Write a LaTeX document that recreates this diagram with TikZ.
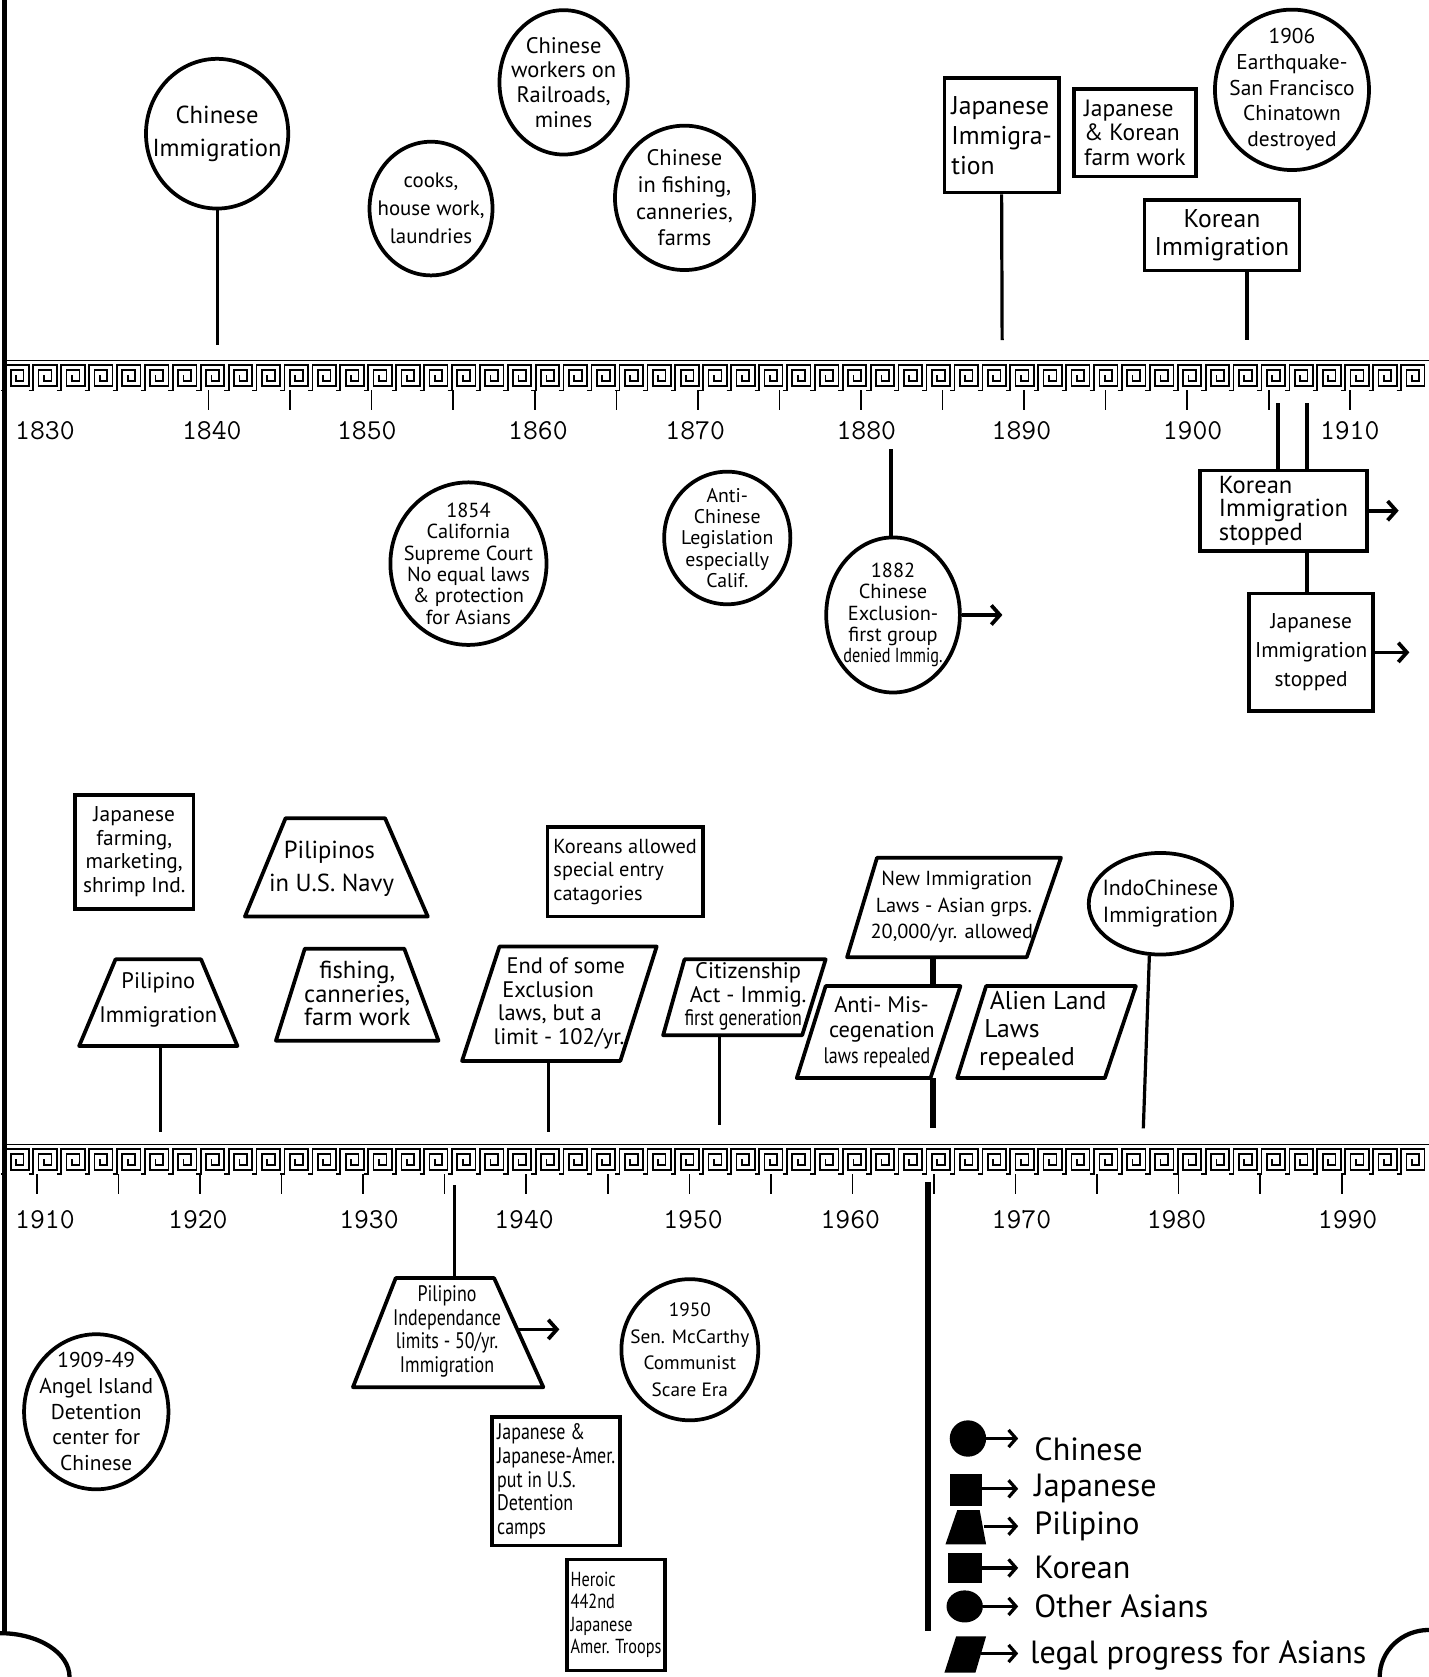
\documentclass[tikz,border=0pt]{standalone}
\usepackage{fontspec}
\newfontfamily\hand{PT Sans}
\newfontfamily\handn{PT Sans}[FakeStretch=0.8]
\usetikzlibrary{shapes.geometric,arrows.meta}
\newcommand\hsz[2]{\fontsize{#1}{#2}\selectfont}
\newcommand\keyband[1]{%
  \draw[key] (5,#1) -- (1336,#1);
  \foreach \i in {0,...,50} {
    \pgfmathsetmacro\xa{5+\i*26.1}
    \draw[key] (\xa-4.1,#1+28) -- (\xa,#1+28) -- ++(0,-24) -- ++(22,0) -- ++(0,20) -- ++(-17,0) -- ++(0,-15) -- ++(12,0) -- ++(0,10) -- ++(-7,0) -- ++(0,-5);
  }
}
% ellipse node of fixed size with its text laid on top: name, position, width, height, font, text
\newcommand\elln[6]{%
  \node[ell,minimum width=#3,minimum height=#4] (#1) at (#2) {};
  \node[lbl,font=#5] (#1-t) at (#1.center) {#6};
}
\begin{document}
\begin{tikzpicture}[x=1pt,y=-1pt,
  shp/.style={draw,line width=3.5pt,inner sep=0pt,align=center},
  ell/.style={shp,ellipse},
  box/.style={shp,rectangle},
  poly/.style={line width=3.5pt,line join=round},
  stem/.style={line width=3pt},
  heavy/.style={line width=5.5pt},
  arr/.style={line width=3.5pt,-{Straight Barb[length=8pt,width=18pt,line width=3.5pt]}},
  lbl/.style={inner sep=0pt,align=center},
  yr/.style={font=\ttfamily\hsz{27}{27},inner sep=0pt},
  key/.style={line width=1.6pt},
  tick/.style={line width=1.5pt},
  legtxt/.style={anchor=west,inner sep=0pt,font=\hand\hsz{30}{30}},
  legarr/.style={line width=3pt,-{Straight Barb[length=7pt,width=16pt,line width=3pt]}},
]
\useasboundingbox (0,0) rectangle (1336,1568);
\fill[white] (0,0) rectangle (1336,1568);

% border
\draw[line width=5pt] (4,0) -- (4,1527);
\draw[line width=4pt] (0,1527) arc[start angle=90,end angle=0,x radius=65,y radius=-41];
\draw[line width=4pt] (1290,1568) arc[start angle=180,end angle=90,x radius=46,y radius=-44];

% ===== top section =====
\elln{chimm}{203,125}{133pt}{140pt}{\hand\hsz{23}{31}}{Chinese\\Immigration}
\elln{cooks}{403,195}{115pt}{125pt}{\hand\hsz{19.5}{26}}{cooks,\\house work,\\laundries}
\elln{rail}{527,77}{120pt}{135pt}{\hand\hsz{21}{23}}{Chinese\\workers on\\Railroads,\\mines}
\elln{fish}{640,185}{130pt}{135pt}{\hand\hsz{21}{25}}{Chinese\\in fishing,\\canneries,\\farms}
\node[box,minimum width=107pt,minimum height=107pt,align=left,font=\hand\hsz{24}{28}] (japimm) at (936.5,126.5) {Japanese\\Immigra-\\tion};
\node[box,minimum width=114pt,minimum height=82pt,align=left,font=\hand\hsz{22}{23}] (jkfarm) at (1061,124) {Japanese\\\& Korean\\farm work};
\elln{quake}{1208,84}{144pt}{150pt}{\hand\hsz{20}{24}}{1906\\Earthquake-\\San Francisco\\Chinatown\\destroyed}
\node[box,minimum width=145pt,minimum height=66pt,font=\hand\hsz{24}{26}] (korimm) at (1142.5,220) {Korean\\Immigration};

\coordinate (b1840) at (203,323);
\coordinate (b1888) at (937,318);
\coordinate (b1903) at (1166,318);
\draw[stem] (chimm.south) -- (b1840);
\draw[stem] (japimm.south) -- (b1888);
\draw[stem] (korimm.south -| b1903) -- (b1903);

% band 1
\keyband{337}
\foreach \yr in {1840,1845,...,1910} \draw[tick] ({195+(\yr-1840)*15.25},365) -- ++(0,18);
\node[yr] (y1830) at (42,403) {1830};
\node[yr] (y1840) at (198,403) {1840};
\node[yr] (y1850) at (343,403) {1850};
\node[yr] (y1860) at (503,403) {1860};
\node[yr] (y1870) at (650,403) {1870};
\node[yr] (y1880) at (810,403) {1880};
\node[yr] (y1890) at (955,403) {1890};
\node[yr] (y1900) at (1115,403) {1900};
\node[yr] (y1910) at (1262,403) {1910};

\elln{court}{438,527}{146pt}{152pt}{\hand\hsz{19}{20}}{1854\\California\\Supreme Court\\No equal laws\\\& protection\\for Asians}
\elln{antichi}{680,503}{118pt}{124pt}{\hand\hsz{18.5}{20}}{Anti-\\Chinese\\Legislation\\especially\\Calif.}
\elln{excl}{835,575}{125pt}{145pt}{\hand\hsz{19}{20}}{1882\\Chinese\\Exclusion-\\first group\\{\handn denied Immig.}}
\node[box,minimum width=156pt,minimum height=75pt,font=\hand\hsz{23}{22},align=left] (korstop) at (1200,477.5) {Korean\\Immigration\\stopped};
\node[box,minimum width=116pt,minimum height=110pt,font=\hand\hsz{20}{27}] (japstop) at (1226,610) {Japanese\\Immigration\\stopped};

\coordinate (b1882) at (833,420);
\coordinate (b1905) at (1195,377);
\coordinate (b1907) at (1222,377);
\draw[stem] (b1882) -- (b1882 |- excl.north);
\draw[stem] (b1905) -- (b1905 |- korstop.north);
\draw[stem] (b1907) -- (b1907 |- korstop.north);
\draw[stem] (b1907 |- korstop.south) -- (b1907 |- japstop.north);
\draw[arr] (excl.east) -- ++(38,0);
\draw[arr] (korstop.east) -- ++(28,0);
\draw[arr] (japstop.east) -- ++(32,0);

% ===== second section =====
\node[box,minimum width=111pt,minimum height=107pt,font=\hand\hsz{20}{22}] (japfarm) at (125.5,796.5) {Japanese\\farming,\\marketing,\\shrimp Ind.};
\draw[poly] (267,765) -- (360,765) -- (400,857) -- (229,857) -- cycle;
\node[lbl,font=\hand\hsz{23}{31},align=left] (navy) at (310,812) {\hspace*{14pt}Pilipinos\\in U.S. Navy};
\node[box,minimum width=145pt,minimum height=84pt,font=\hand\hsz{19}{22},align=left] (korallow) at (584.5,815) {Koreans allowed\\special entry\\catagories};

\draw[poly] (108,897) -- (188,897) -- (222,978) -- (74,978) -- cycle;
\node[lbl,font=\hand\hsz{21}{32}] (pilimm) at (148,935) {Pilipino\\Immigration};
\coordinate (pilimmB) at (150,978);
\draw[poly] (285,887) -- (378,887) -- (410,973) -- (258,973) -- cycle;
\node[lbl,font=\hand\hsz{23}{22}] (fishing) at (334,929) {fishing,\\canneries,\\farm work};
\draw[poly] (467,885) -- (614,885) -- (580,992) -- (432,992) -- cycle;
\node[lbl,font=\hand\hsz{21}{22},align=left] (endex) at (523,938) {\hspace*{12pt}End of some\\\hspace*{8pt}Exclusion\\\hspace*{4pt}laws, but a\\limit - 102/yr.};
\coordinate (endexB) at (513,992);
\draw[poly] (640,897) -- (772,897) -- (750,968) -- (620,968) -- cycle;
\node[lbl,font=\hand\hsz{21}{22},align=left] (citiz) at (697,932) {\hspace*{10pt}Citizenship\\\hspace*{5pt}Act - Immig.\\{\handn first generation}};
\coordinate (citizB) at (673,968);
\draw[poly] (820,802) -- (992,802) -- (960,895) -- (792,895) -- cycle;
\node[lbl,font=\hand\hsz{19}{25},align=left] (newimm) at (890,848) {\hspace*{10pt}New Immigration\\\hspace*{5pt}Laws - Asian grps.\\20,000/yr. allowed};
\coordinate (newimmB) at (872,895);
\draw[poly] (772,922) -- (898,922) -- (870,1008) -- (745,1008) -- cycle;
\node[lbl,font=\hand\hsz{21}{24},align=left] (antimis) at (822,965) {\hspace*{10pt}Anti- Mis-\\\hspace*{5pt}cegenation\\{\handn laws repealed}};
\coordinate (antimisT) at (872,922);
\coordinate (antimisB) at (872,1008);
\draw[poly] (922,922) -- (1062,922) -- (1033,1008) -- (895,1008) -- cycle;
\node[lbl,font=\hand\hsz{24}{26},align=left] (alien) at (975,964) {\hspace*{10pt}Alien Land\\\hspace*{5pt}Laws\\repealed};
\elln{indo}{1085,845}{134pt}{95pt}{\hand\hsz{20.5}{25}}{IndoChinese\\Immigration}

\coordinate (b1915) at (150,1058);
\coordinate (b1942) at (513,1058);
\coordinate (b1952) at (673,1052);
\coordinate (b1965) at (872,1055);
\coordinate (b1975) at (1069,1055);
\draw[stem] (pilimmB) -- (b1915);
\draw[stem] (endexB) -- (b1942);
\draw[stem] (citizB) -- (b1952);
\draw[heavy] (newimmB) -- (antimisT);
\draw[heavy] (antimisB) -- (b1965);
\draw[stem] (indo.-102) -- (b1975);

% band 2
\keyband{1070}
\foreach \yr in {1910,1915,...,1990} \draw[tick] ({34.5+(\yr-1910)*15.25},1098) -- ++(0,18);
\node[yr] (z1910) at (42,1140) {1910};
\node[yr] (z1920) at (185,1140) {1920};
\node[yr] (z1930) at (345,1140) {1930};
\node[yr] (z1940) at (490,1140) {1940};
\node[yr] (z1950) at (648,1140) {1950};
\node[yr] (z1960) at (795,1140) {1960};
\node[yr] (z1970) at (955,1140) {1970};
\node[yr] (z1980) at (1100,1140) {1980};
\node[yr] (z1990) at (1260,1140) {1990};

\coordinate (b1934) at (425,1108);
\coordinate (c1965) at (868,1105);
\coordinate (c1965e) at (868,1525);
\draw[heavy] (c1965) -- (c1965e);

\draw[poly] (370,1195) -- (462,1195) -- (508,1297) -- (330,1297) -- cycle;
\node[lbl,font=\handn\hsz{21}{22}] (pilind) at (418,1245) {Pilipino\\Independance\\limits - 50/yr.\\Immigration};
\coordinate (pilindT) at (425,1195);
\coordinate (pilindR) at (484,1243);
\draw[stem] (b1934) -- (pilindT);
\draw[arr] (pilindR) -- (523,1243);

\elln{mccarthy}{645,1262}{128pt}{132pt}{\hand\hsz{18}{25}}{1950\\Sen. McCarthy\\Communist\\Scare Era}
\elln{angel}{90,1320}{135pt}{145pt}{\hand\hsz{20}{24}}{1909-49\\Angel Island\\Detention\\center for\\Chinese}
\node[box,minimum width=120pt,minimum height=120pt,font=\handn\hsz{21}{22},align=left] (camps) at (520,1385) {Japanese \&\\Japanese-Amer.\\put in U.S.\\Detention\\camps};
\node[box,minimum width=92pt,minimum height=104pt,font=\handn\hsz{19}{21},align=left] (heroic) at (576,1510) {Heroic\\442nd\\Japanese\\Amer. Troops};

% ===== legend =====
\fill (905,1345) circle (17);
\coordinate (lg1) at (922,1345);
\draw[legarr] (lg1) -- (952,1345);
\node[legtxt] (lt1) at (967,1355) {Chinese};
\fill (888,1378) rectangle (918,1408);
\coordinate (lg2) at (918,1392);
\draw[legarr] (lg2) -- (952,1392);
\node[legtxt] (lt2) at (967,1392) {Japanese};
\fill (895,1412) -- (916,1412) -- (922,1444) -- (884,1444) -- cycle;
\coordinate (lg3) at (920,1427);
\draw[legarr] (lg3) -- (952,1427);
\node[legtxt] (lt3) at (967,1427) {Pilipino};
\fill (886,1452) rectangle (918,1480);
\coordinate (lg4) at (918,1466);
\draw[legarr] (lg4) -- (952,1466);
\node[legtxt] (lt4) at (967,1466) {Korean};
\fill (902,1502) ellipse[x radius=17,y radius=15];
\coordinate (lg5) at (919,1502);
\draw[legarr] (lg5) -- (952,1502);
\node[legtxt] (lt5) at (967,1502) {Other Asians};
\fill (894,1530) -- (922,1530) -- (912,1564) -- (883,1564) -- cycle;
\coordinate (lg6) at (917,1546);
\draw[legarr] (lg6) -- (952,1546);
\node[legtxt] (lt6) at (963,1548) {legal progress for Asians};
\end{tikzpicture}
\end{document}
